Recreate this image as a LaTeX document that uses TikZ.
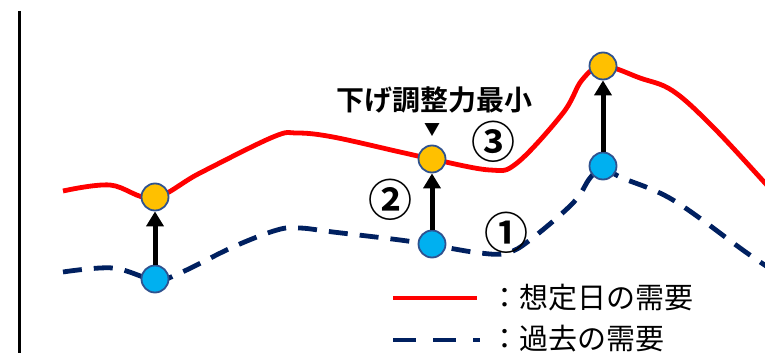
\documentclass[tikz,border=0pt]{standalone}
\usepackage{fontspec}
\newfontfamily\jp{Noto Sans CJK JP}[BoldFont={Noto Sans CJK JP Bold}]
\usetikzlibrary{arrows.meta}

\definecolor{demandred}{HTML}{FF0000}
\definecolor{pastnavy}{HTML}{002060}
\definecolor{dotorange}{HTML}{FFC000}
\definecolor{dotblue}{HTML}{00B0F0}
\definecolor{dotedge}{HTML}{2F528F}

\begin{document}
\begin{tikzpicture}[x=1pt,y=-1pt]
    \tikzstyle{today}=[demandred, line width=4.8pt, line join=round]
    \tikzstyle{past}=[pastnavy, line width=4.8pt, dash pattern=on 19pt off 12pt]
    \tikzstyle{dot}=[circle, draw=dotedge, line width=1.8pt, minimum size=27pt, inner sep=0pt]
    \tikzstyle{hidot}=[dot, fill=dotorange]
    \tikzstyle{lodot}=[dot, fill=dotblue]
    \tikzstyle{lift}=[line width=5pt, -{Triangle[width=17pt,length=15pt]}]
    \tikzstyle{num}=[font=\jp\bfseries\fontsize{44}{44}\selectfont, inner sep=0pt]
    \tikzstyle{legend}=[font=\jp\fontsize{29}{29}\selectfont, inner sep=0pt, anchor=west]

    \useasboundingbox (0,0) rectangle (765,353);
    \begin{scope}
    \clip (0,0) rectangle (765,353);
    % axis
    \draw[line width=3pt] (19,11) -- (19,360);
    % demand curves
    \draw[today] plot[smooth, tension=0.6] coordinates {(63,191) (110,185) (153,198) (200,173) (273,137) (297,133) (333,137) (400,152) (432,159) (490,170) (517,163) (563,113) (582,80) (603,66) (640,78) (673,91) (713,127) (765,183) (780,200)};
    \draw[past] plot[smooth, tension=0.6] coordinates {(63,272) (113,268) (155,280) (180,273) (233,247) (277,230) (300,228) (333,232) (400,240) (432,245) (480,253) (507,253) (530,240) (573,203) (590,178) (603,167) (620,177) (673,200) (747,253) (780,275)};
    \end{scope}

    % points
    \node[hidot] (o1) at (155,197) {};
    \node[hidot] (o2) at (432,159) {};
    \node[hidot] (o3) at (603,66) {};
    \node[lodot] (b1) at (155,279) {};
    \node[lodot] (b2) at (432,244) {};
    \node[lodot] (b3) at (603,166) {};

    \draw[lift] (b1) -- (o1);
    \draw[lift] (b2) -- (o2);
    \draw[lift] (b3) -- (o3);

    % labels
    \node[font=\jp\bfseries\fontsize{28}{28}\selectfont, inner sep=0pt] (minlabel) at (434,100) {下げ調整力最小};
    \node[font=\jp\fontsize{16}{16}\selectfont, inner sep=0pt] (mark) at (432,130) {▼};
    \node[num] (n1) at (506,233) {①};
    \node[num] (n2) at (390,200) {②};
    \node[num] (n3) at (493,142) {③};

    % legend
    \coordinate (r0) at (393,298);
    \coordinate (r1) at (477,298);
    \coordinate (p0) at (393,340);
    \coordinate (p1) at (480,340);
    \draw[today] (r0) -- (r1);
    \draw[past, dash pattern=on 23pt off 17pt] (p0) -- (p1);
    \node[legend] (lt) at (490,298) {：想定日の需要};
    \node[legend] (lp) at (490,339) {：過去の需要};
\end{tikzpicture}
\end{document}
